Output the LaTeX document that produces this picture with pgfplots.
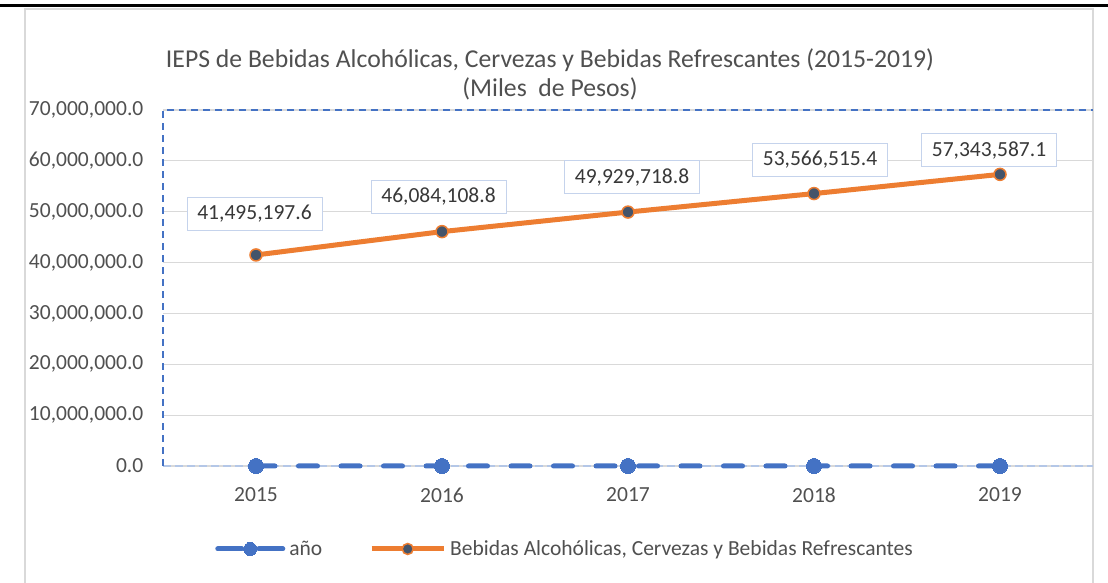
\documentclass[border=0pt]{standalone}
\usepackage{pgfplots}
\pgfplotsset{compat=1.18}
\usepackage{fontspec}
\setmainfont{Carlito}
\definecolor{txt}{HTML}{505050}
\definecolor{lbl}{HTML}{383838}
\definecolor{blue1}{HTML}{4472C4}
\definecolor{orng}{HTML}{ED7D31}
\definecolor{slate}{HTML}{44546A}
\definecolor{gridc}{HTML}{D9D9D9}
\definecolor{axlight}{HTML}{B4C7E7}
\definecolor{boxc}{HTML}{C5D3EC}
\tikzset{lbox/.style={draw=boxc, fill=white, line width=1bp, minimum width=135bp, minimum height=33bp, inner sep=0pt, text=lbl, font=\fontsize{21.6}{25}\selectfont}}
\pgfplotsset{
  legblue/.style={legend image code/.code={\draw[##1, dash pattern=on 24bp off 17bp, mark repeat=2, mark phase=2, mark size=6.5bp] plot coordinates {(0bp,0bp) (32.5bp,0bp) (65bp,0bp)};}},
  legorng/.style={legend image code/.code={\draw[##1, mark repeat=2, mark phase=2, mark size=5.5bp] plot coordinates {(0bp,0bp) (36bp,0bp) (72bp,0bp)};}},
}
\begin{document}
\begin{tikzpicture}[x=1bp,y=1bp]
\useasboundingbox (0,0) rectangle (1108,583);
\fill[white] (0,0) rectangle (1108,583);
\draw[black, line width=3bp] (0,577.5) -- (1108,577.5);
\draw[gridc, line width=1.2bp] (25,0) -- (25,574) -- (1093,574) -- (1093,0);
\node[text=txt, font=\fontsize{25.8}{29}\selectfont, align=center] at (550,508.5) {IEPS de Bebidas Alcohólicas, Cervezas y Bebidas Refrescantes (2015-2019)\\(Miles\ \ de Pesos)};
\begin{axis}[
  at={(163bp,117bp)}, anchor=south west,
  width=930bp, height=356bp, scale only axis,
  xmin=-0.5, xmax=4.5, ymin=0, ymax=70000000,
  clip=false,
  xtick={0,1,2,3,4}, xticklabels={2015,2016,2017,2018,2019},
  ytick={0,10000000,20000000,30000000,40000000,50000000,60000000,70000000},
  scaled y ticks=false,
  ymajorgrids, grid style={gridc, line width=1.2bp},
  axis line style={draw=none},
  major tick length=0pt,
  tick label style={text=txt, font=\fontsize{21.6}{25}\selectfont},
  yticklabel style={anchor=east, inner sep=0pt, xshift=-19.5bp, /pgf/number format/.cd, fixed, fixed zerofill, precision=1, 1000 sep={,}, assume math mode=true},
  xticklabel style={anchor=center, inner sep=0pt, yshift=-29bp},
  legend columns=2,
  legend style={at={(0.4323,-0.2331)}, anchor=center, draw=none, fill=none, font=\fontsize{21.6}{25}\selectfont, text=txt, /tikz/every even column/.append style={column sep=45bp}, /tikz/every odd column/.append style={column sep=2bp}},
]
\draw[axlight, line width=1.5bp, dash pattern=on 8bp off 4bp] (rel axis cs:0,0) -- (rel axis cs:1,0);
\draw[blue1, line width=1.5bp, dash pattern=on 7bp off 5bp] (rel axis cs:0,0) -- (rel axis cs:0,1) -- (rel axis cs:1,1);
\addplot[blue1, line width=5bp, line cap=round, dash pattern=on 19bp off 23.5bp, mark=*, mark size=7.5bp, mark options={solid, fill=blue1, draw=blue1, line width=0pt}, legblue]
  coordinates {(0,2015) (1,2016) (2,2017) (3,2018) (4,2019)};
\addlegendentry{año}
\addplot[orng, line width=5bp, mark=*, mark size=6bp, mark options={fill=slate, draw=orng, line width=1.5bp}, legorng]
  coordinates {(0,41495197.6) (1,46084108.8) (2,49929718.8) (3,53566515.4) (4,57343587.1)};
\addlegendentry{Bebidas Alcohólicas, Cervezas y Bebidas Refrescantes}
\node[lbox, xshift=-1.5bp, yshift=41bp] at (axis cs:0,41495197.6) {41,495,197.6};
\node[lbox, xshift=-3.5bp, yshift=35bp] at (axis cs:1,46084108.8) {46,084,108.8};
\node[lbox, xshift=4bp, yshift=35bp] at (axis cs:2,49929718.8) {49,929,718.8};
\node[lbox, xshift=6bp, yshift=34bp] at (axis cs:3,53566515.4) {53,566,515.4};
\node[lbox, xshift=-11bp, yshift=24bp] at (axis cs:4,57343587.1) {57,343,587.1};
\end{axis}
\end{tikzpicture}
\end{document}
